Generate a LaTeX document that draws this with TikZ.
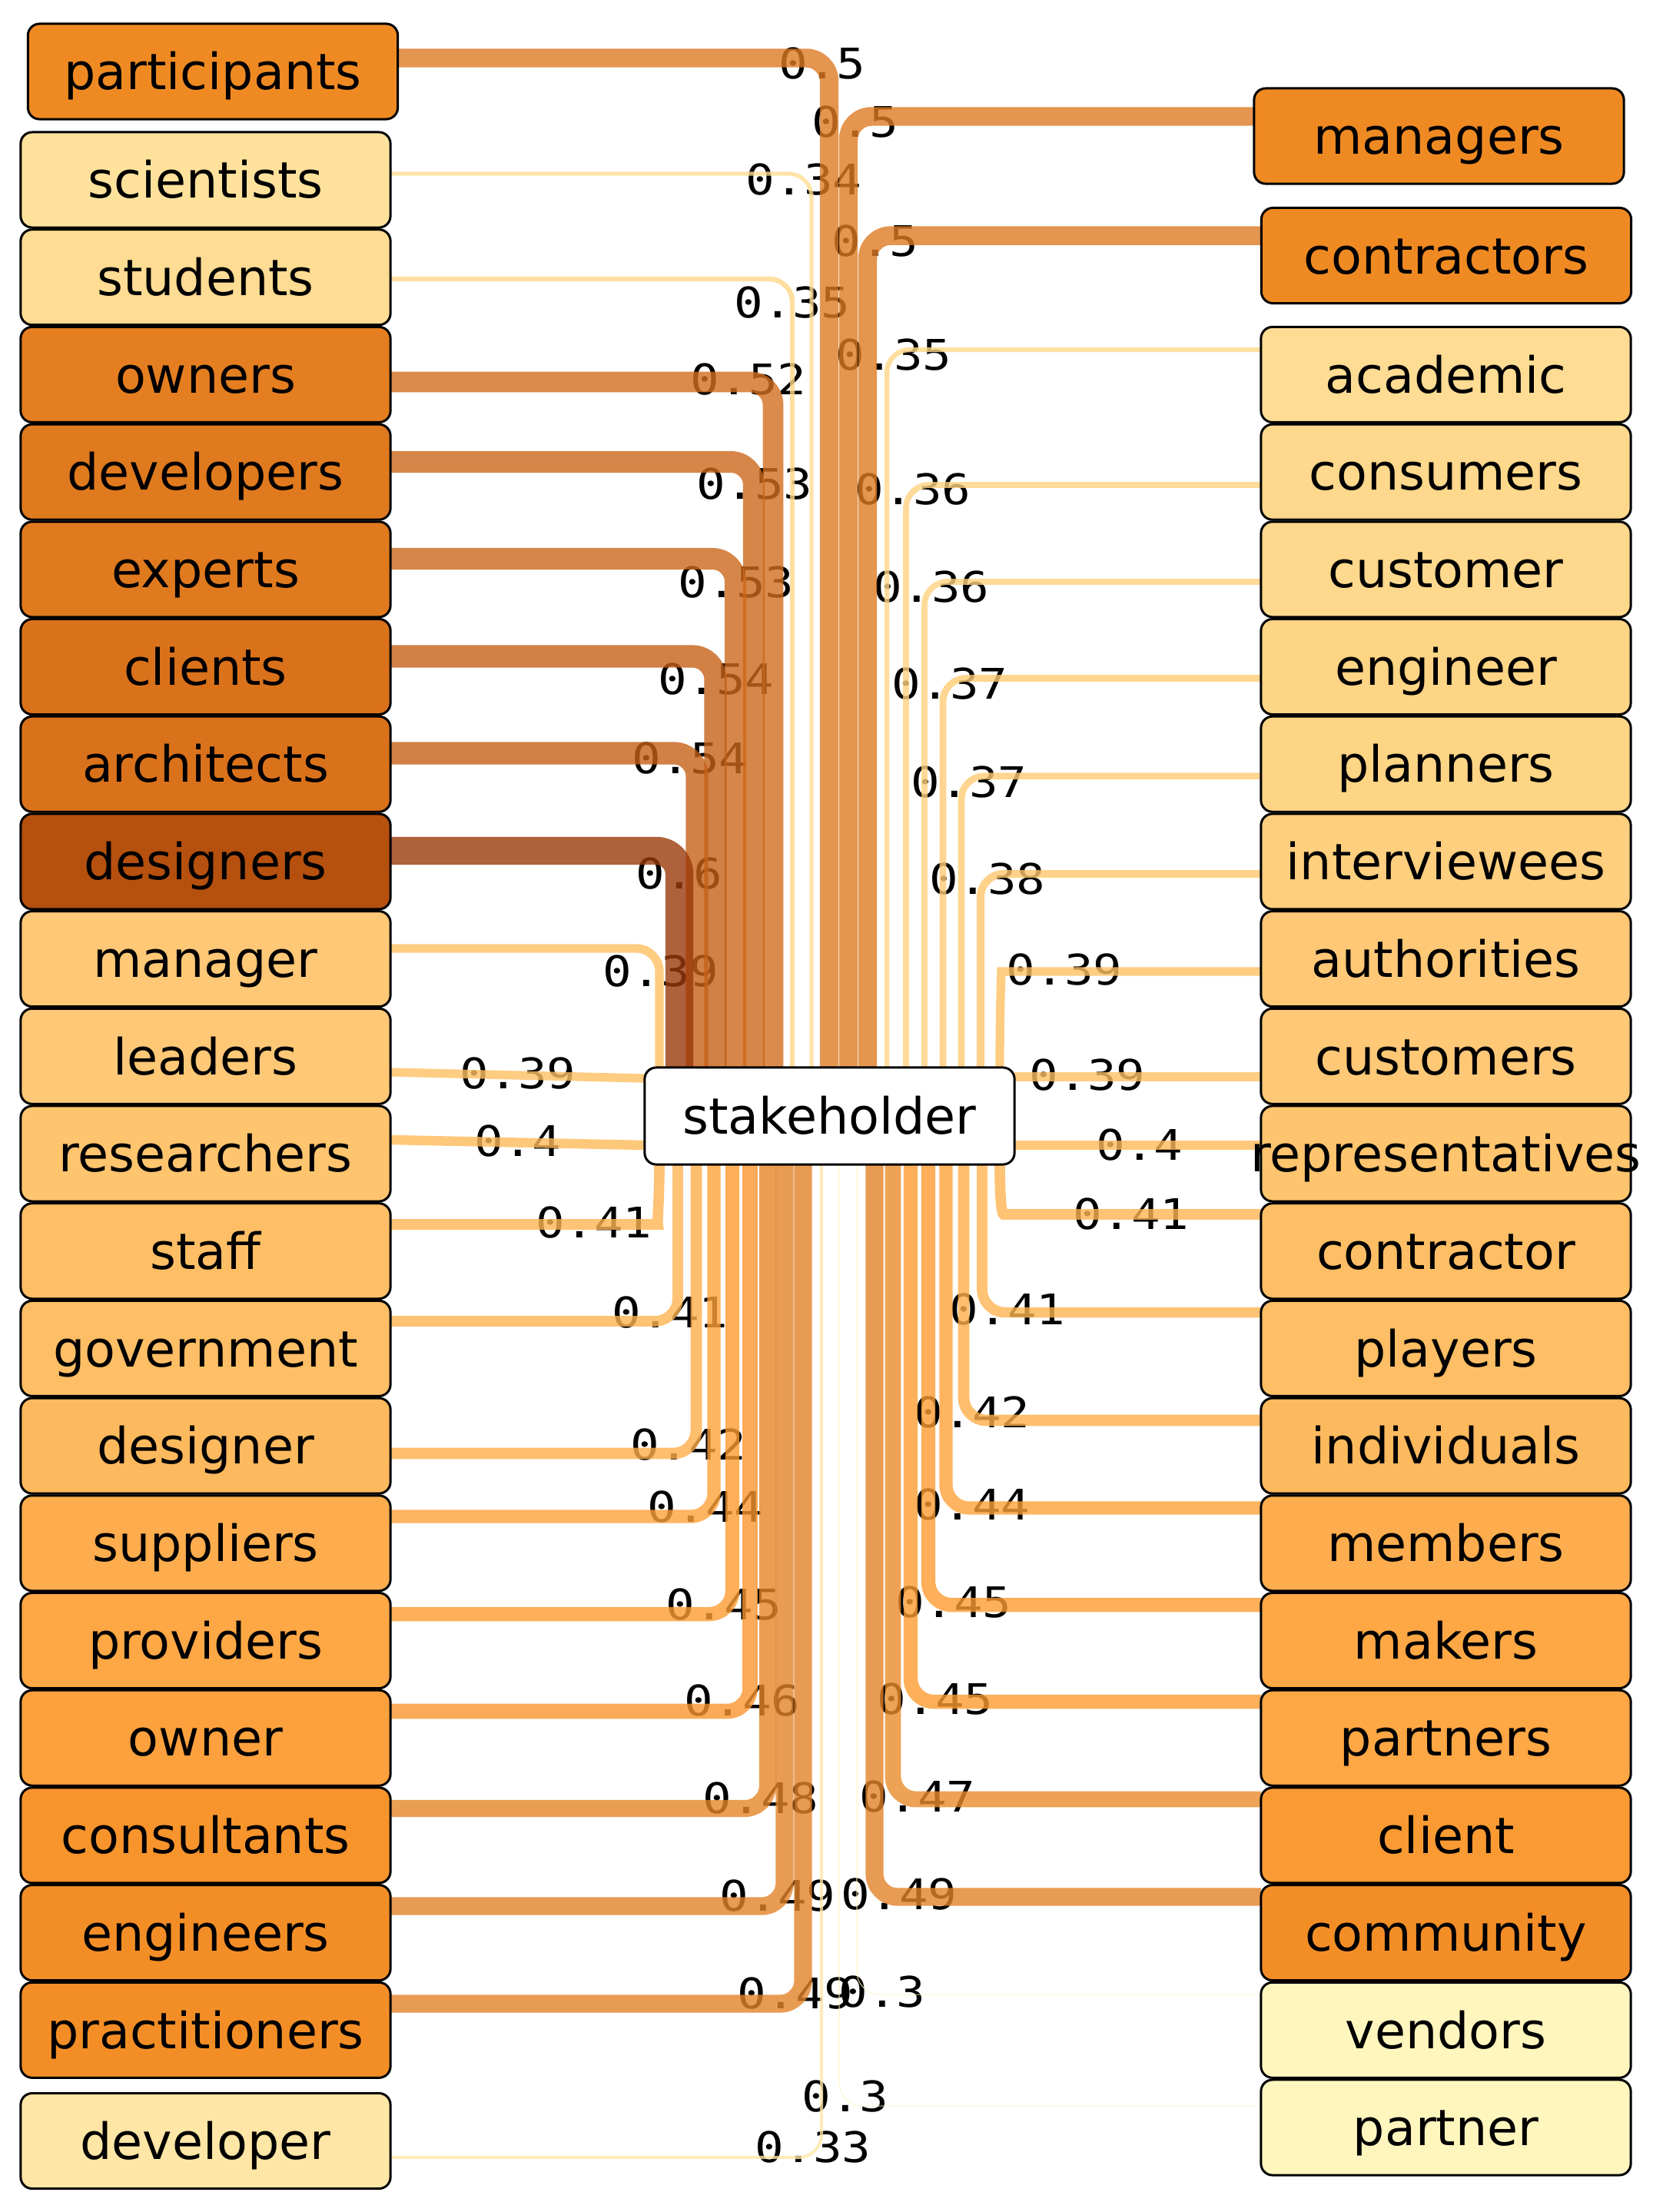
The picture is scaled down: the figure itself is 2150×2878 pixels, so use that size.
\documentclass[tikz,border=0pt]{standalone}
\usepackage{fontspec}
\newfontfamily\bxfam{DejaVu Sans}
\newfontfamily\lbfam[FakeStretch=1.14]{DejaVu Sans Mono}
\newcommand\bxfont{\bxfam\fontsize{18.5}{21}\selectfont}
\newcommand\lbfont{\lbfam\fontsize{15.6}{18}\selectfont}
\newcommand\T[1]{\makebox[0pt]{#1}}
\pgfdeclarelayer{bg}
\pgfsetlayers{bg,main}
% box fills
\definecolor{bc30}{RGB}{255,246,190}
\definecolor{bc33}{RGB}{254,230,166}
\definecolor{bc34}{RGB}{254,226,156}
\definecolor{bc35}{RGB}{254,220,147}
\definecolor{bc36}{RGB}{254,216,140}
\definecolor{bc37}{RGB}{254,212,133}
\definecolor{bc38}{RGB}{254,207,126}
\definecolor{bc39}{RGB}{254,200,118}
\definecolor{bc40}{RGB}{254,196,110}
\definecolor{bc41}{RGB}{253,190,101}
\definecolor{bc42}{RGB}{253,185,94}
\definecolor{bc44}{RGB}{253,173,77}
\definecolor{bc45}{RGB}{253,167,69}
\definecolor{bc46}{RGB}{252,161,61}
\definecolor{bc47}{RGB}{249,154,51}
\definecolor{bc48}{RGB}{247,148,44}
\definecolor{bc49}{RGB}{243,142,39}
\definecolor{bc50}{RGB}{239,138,35}
\definecolor{bc52}{RGB}{228,126,32}
\definecolor{bc53}{RGB}{224,122,30}
\definecolor{bc54}{RGB}{218,114,27}
\definecolor{bc60}{RGB}{181,80,15}
% edge colours (drawn at opacity 0.8)
\definecolor{ec30}{RGB}{255,244,190}
\definecolor{ec33}{RGB}{254,231,167}
\definecolor{ec34}{RGB}{254,221,146}
\definecolor{ec35}{RGB}{254,215,136}
\definecolor{ec36}{RGB}{254,210,126}
\definecolor{ec37}{RGB}{254,204,116}
\definecolor{ec38}{RGB}{254,199,109}
\definecolor{ec39}{RGB}{254,193,99}
\definecolor{ec40}{RGB}{254,186,90}
\definecolor{ec41}{RGB}{254,180,81}
\definecolor{ec42}{RGB}{254,174,74}
\definecolor{ec44}{RGB}{254,161,56}
\definecolor{ec45}{RGB}{252,155,49}
\definecolor{ec46}{RGB}{249,149,46}
\definecolor{ec47}{RGB}{234,139,44}
\definecolor{ec48}{RGB}{229,134,41}
\definecolor{ec49}{RGB}{226,130,40}
\definecolor{ec50}{RGB}{221,123,36}
\definecolor{ec52}{RGB}{210,110,30}
\definecolor{ec53}{RGB}{204,104,28}
\definecolor{ec54}{RGB}{197,96,24}
\definecolor{ec60}{RGB}{154,58,9}
\tikzset{
  bx/.style={draw=black, line width=0.85pt, rounded corners=0.15cm, fill=bc#1,
    minimum width=4.81cm, minimum height=1.24cm, inner sep=0pt, outer sep=0pt,
    font=\bxfont, text height=13.5pt, text depth=0pt},
  sbx/.style={draw=black, line width=0.85pt, rounded corners=0.15cm, fill=white,
    minimum width=4.81cm, minimum height=1.26cm, inner sep=0pt, outer sep=0pt,
    font=\bxfont, text height=13.5pt, text depth=0pt},
  lab/.style={font=\lbfont, text height=11.4pt, text depth=0pt, inner sep=0pt},
  ed/.style={draw=ec#1, line width={max(0.3,34.1*(0.#1-0.296))*1pt},
    draw opacity=0.8, rounded corners=0.3cm}
}
\newcommand\LA[4]{\draw[ed=#4] (#1.east |- 0,#3) -- (#2,#3) -- (#2,0 |- st.north);}
\newcommand\LB[4]{\draw[ed=#4] (#1.east |- 0,#3) -- (#2,#3) -- (#2,0 |- st.south);}
\newcommand\RA[4]{\draw[ed=#4] (#1.west |- 0,#3) -- (#2,#3) -- (#2,0 |- st.north);}
\newcommand\RB[4]{\draw[ed=#4] (#1.west |- 0,#3) -- (#2,#3) -- (#2,0 |- st.south);}
\begin{document}
\begin{tikzpicture}[x=0.01cm,y=-0.01cm]
\useasboundingbox (0,0) rectangle (2150,2878);
% centre node
\node[sbx] (st) at (1079.5,1452) {\T{stakeholder}};
% left column
\node[bx=50] (participants) at (277,93) {\T{participants}};
\node[bx=34] (scientists) at (267.5,234) {\T{scientists}};
\node[bx=35] (students) at (267.5,360.7) {\T{students}};
\node[bx=52] (owners) at (267.5,487.4) {\T{owners}};
\node[bx=53] (developers) at (267.5,614.1) {\T{developers}};
\node[bx=53] (experts) at (267.5,740.8) {\T{experts}};
\node[bx=54] (clients) at (267.5,867.5) {\T{clients}};
\node[bx=54] (architects) at (267.5,994.2) {\T{architects}};
\node[bx=60] (designers) at (267.5,1120.9) {\T{designers}};
\node[bx=39] (manager) at (267.5,1247.6) {\T{manager}};
\node[bx=39] (leaders) at (267.5,1374.3) {\T{leaders}};
\node[bx=40] (researchers) at (267.5,1501) {\T{researchers}};
\node[bx=41] (staff) at (267.5,1627.7) {\T{staff}};
\node[bx=41] (government) at (267.5,1754.4) {\T{government}};
\node[bx=42] (designer) at (267.5,1881.1) {\T{designer}};
\node[bx=44] (suppliers) at (267.5,2007.8) {\T{suppliers}};
\node[bx=45] (providers) at (267.5,2134.5) {\T{providers}};
\node[bx=46] (owner) at (267.5,2261.2) {\T{owner}};
\node[bx=48] (consultants) at (267.5,2387.9) {\T{consultants}};
\node[bx=49] (engineers) at (267.5,2514.6) {\T{engineers}};
\node[bx=49] (practitioners) at (267.5,2641.3) {\T{practitioners}};
\node[bx=33] (developer) at (267.5,2785.5) {\T{developer}};
% right column
\node[bx=50] (managers) at (1872.5,177) {\T{managers}};
\node[bx=50] (contractors) at (1882,332.5) {\T{contractors}};
\node[bx=35] (academic) at (1881.5,487.4) {\T{academic}};
\node[bx=36] (consumers) at (1881.5,614.1) {\T{consumers}};
\node[bx=36] (customer) at (1881.5,740.8) {\T{customer}};
\node[bx=37] (engineer) at (1881.5,867.5) {\T{engineer}};
\node[bx=37] (planners) at (1881.5,994.2) {\T{planners}};
\node[bx=38] (interviewees) at (1881.5,1120.9) {\T{interviewees}};
\node[bx=39] (authorities) at (1881.5,1247.6) {\T{authorities}};
\node[bx=39] (customers) at (1881.5,1374.3) {\T{customers}};
\node[bx=40] (representatives) at (1881.5,1501) {\T{representatives}};
\node[bx=41] (contractor) at (1881.5,1627.7) {\T{contractor}};
\node[bx=41] (players) at (1881.5,1754.4) {\T{players}};
\node[bx=42] (individuals) at (1881.5,1881.1) {\T{individuals}};
\node[bx=44] (members) at (1881.5,2007.8) {\T{members}};
\node[bx=45] (makers) at (1881.5,2134.5) {\T{makers}};
\node[bx=45] (partners) at (1881.5,2261.2) {\T{partners}};
\node[bx=47] (client) at (1881.5,2387.9) {\T{client}};
\node[bx=49] (community) at (1881.5,2514.6) {\T{community}};
\node[bx=30] (vendors) at (1881.5,2641.3) {\T{vendors}};
\node[bx=30] (partner) at (1881.5,2768) {\T{partner}};

\begin{pgfonlayer}{bg}
% labels (under the connectors)
\node[lab] (l01) at (1070,82) {0.5};
\node[lab] (l02) at (1046,233) {0.34};
\node[lab] (l03) at (1031,393) {0.35};
\node[lab] (l04) at (974,493) {0.52};
\node[lab] (l05) at (982,629) {0.53};
\node[lab] (l06) at (958,757) {0.53};
\node[lab] (l07) at (932,883) {0.54};
\node[lab] (l08) at (898,986) {0.54};
\node[lab] (l09) at (884,1136) {0.6};
\node[lab] (l10) at (860,1263) {0.39};
\node[lab] (l11) at (674,1396) {0.39};
\node[lab] (l12) at (674,1484) {0.4};
\node[lab] (l13) at (773,1590) {0.41};
\node[lab] (l14) at (872,1707) {0.41};
\node[lab] (l15) at (896,1879) {0.42};
\node[lab] (l16) at (918,1960) {0.44};
\node[lab] (l17) at (942,2087) {0.45};
\node[lab] (l18) at (966,2212) {0.46};
\node[lab] (l19) at (990,2339) {0.48};
\node[lab] (l20) at (1012,2466) {0.49};
\node[lab] (l21) at (1035,2593) {0.49};
\node[lab] (l22) at (1058,2793) {0.33};
\node[lab] (r01) at (1113,158) {0.5};
\node[lab] (r02) at (1139,313) {0.5};
\node[lab] (r03) at (1163,461) {0.35};
\node[lab] (r04) at (1188,636) {0.36};
\node[lab] (r05) at (1212,763) {0.36};
\node[lab] (r06) at (1236,889) {0.37};
\node[lab] (r07) at (1261,1017) {0.37};
\node[lab] (r08) at (1285,1143) {0.38};
\node[lab] (r09) at (1385,1261) {0.39};
\node[lab] (r10) at (1415,1398) {0.39};
\node[lab] (r11) at (1483,1489) {0.4};
\node[lab] (r12) at (1472,1579) {0.41};
\node[lab] (r13) at (1311,1703) {0.41};
\node[lab] (r14) at (1265,1837) {0.42};
\node[lab] (r15) at (1265,1957) {0.44};
\node[lab] (r16) at (1241,2084) {0.45};
\node[lab] (r17) at (1217,2210) {0.45};
\node[lab] (r18) at (1194,2337) {0.47};
\node[lab] (r19) at (1170,2464) {0.49};
\node[lab] (r20) at (1148,2591) {0.3};
\node[lab] (r21) at (1100,2727) {0.3};
% connectors, left side above
\LA{participants}{1079}{75.5}{50}
\LA{scientists}{1056}{226}{34}
\LA{students}{1031}{363}{35}
\LA{owners}{1006}{497}{52}
\LA{developers}{981}{601}{53}
\LA{experts}{957}{727}{53}
\LA{clients}{931}{854}{54}
\LA{architects}{907}{980}{54}
\LA{designers}{884}{1107}{60}
\LA{manager}{858}{1234}{39}
% straight
\draw[ed=39] (leaders.east |- 0,1395) -- (st.west |- 0,1403);
\draw[ed=40] (researchers.east |- 0,1483) -- (st.west |- 0,1490);
% left side below
\draw[ed=41] (staff.east |- 0,1593) -- (826,1593) .. controls (855,1593) and (858,1560) .. (858,0 |- st.south);
\LB{government}{882}{1719}{41}
\LB{designer}{906}{1891}{42}
\LB{suppliers}{929}{1973}{44}
\LB{providers}{953}{2100}{45}
\LB{owner}{976}{2226.5}{46}
\LB{consultants}{999}{2353}{48}
\LB{engineers}{1021}{2480}{49}
\LB{practitioners}{1045}{2607}{49}
\LB{developer}{1069}{2807}{33}
% right side above
\RA{managers}{1104}{151.5}{50}
\RA{contractors}{1129}{306.6}{50}
\RA{academic}{1154}{455}{35}
\RA{consumers}{1179}{631}{36}
\RA{customer}{1203}{757}{36}
\RA{engineer}{1227}{882.6}{37}
\RA{planners}{1251}{1009.7}{37}
\RA{interviewees}{1276}{1137}{38}
\draw[ed=39] (authorities.west |- 0,1264) -- (1333,1264) .. controls (1303,1264) and (1301,1310) .. (1301,0 |- st.north);
% straight
\draw[ed=39] (customers.west |- 0,1401) -- (st.east |- 0,1401);
\draw[ed=40] (representatives.west |- 0,1490) -- (st.east |- 0,1490);
% right side below
\draw[ed=41] (contractor.west |- 0,1580) -- (1336,1580) .. controls (1303,1580) and (1301,1555) .. (1301,0 |- st.south);
\RB{players}{1278}{1707.6}{41}
\RB{individuals}{1254}{1848}{42}
\RB{members}{1231}{1962}{44}
\RB{makers}{1208}{2088}{45}
\RB{partners}{1185}{2214}{45}
\RB{client}{1162}{2341}{47}
\RB{community}{1138}{2468}{49}
\RB{vendors}{1115}{2595}{30}
\RB{partner}{1092}{2740}{30}
\end{pgfonlayer}
\end{tikzpicture}
\end{document}
